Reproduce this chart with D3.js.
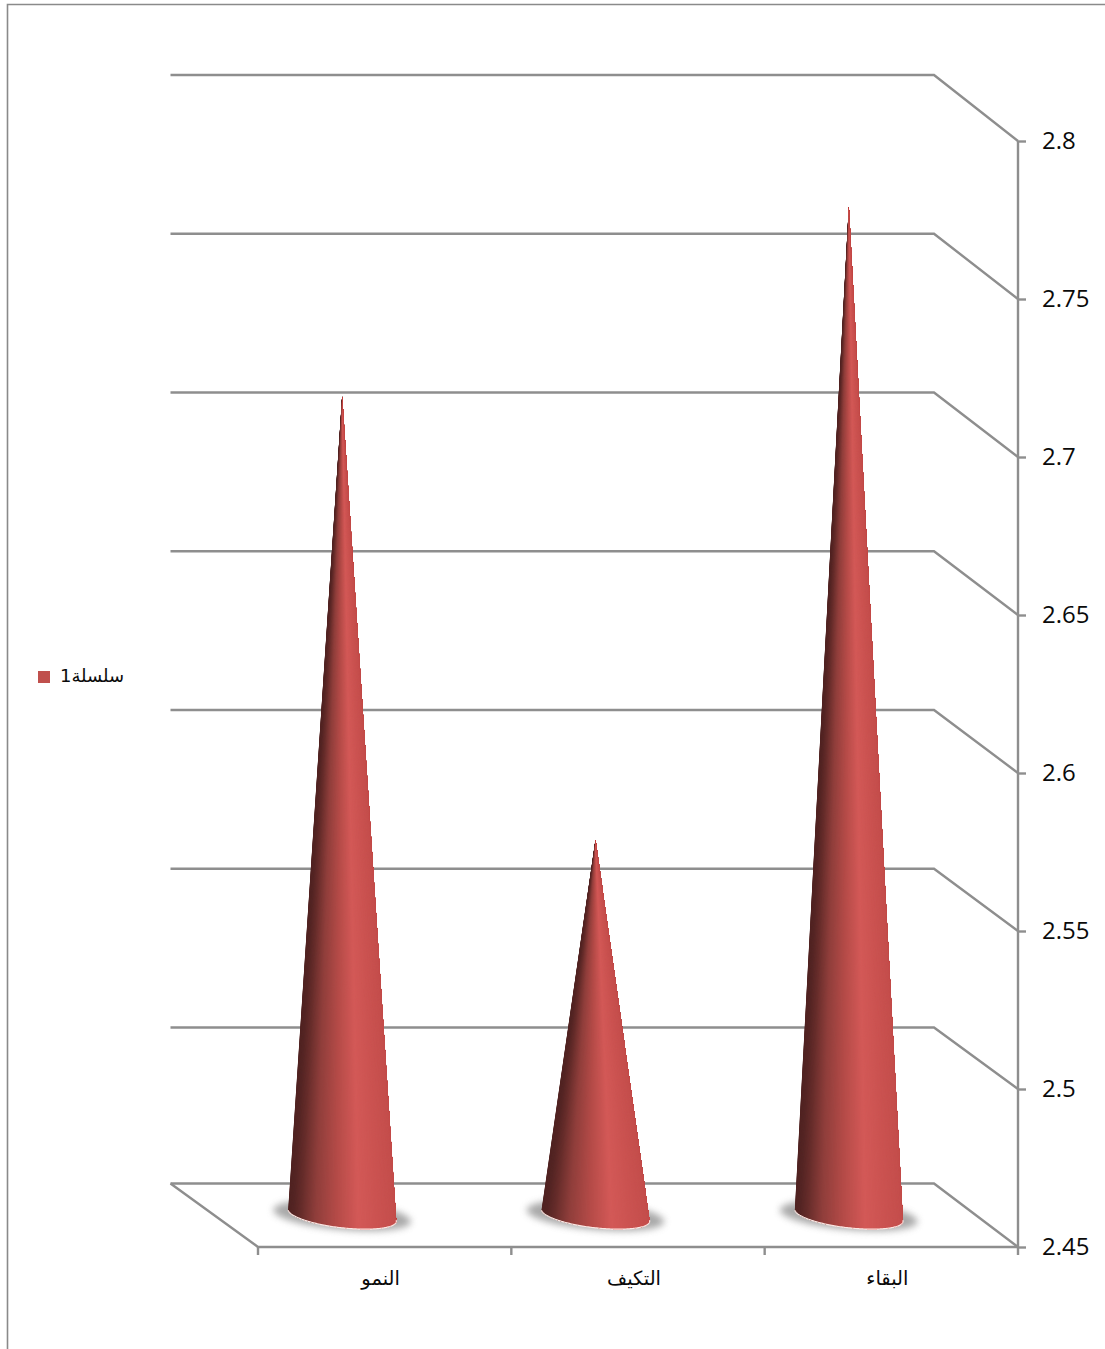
<!DOCTYPE html>
<html>
<head>
<meta charset="utf-8">
<script src="https://cdn.jsdelivr.net/npm/d3@7/dist/d3.min.js"></script>
<style>
html,body{margin:0;padding:0;background:#fff;overflow:hidden}
svg{display:block}
.y text{font-family:"Open Sans",sans-serif;font-size:24px;fill:#0a0a0a}
.x text{font-family:"DejaVu Sans",sans-serif;font-size:19.5px;fill:#0a0a0a}
</style>
</head>
<body>
<div id="chart"></div>
<script>
// Chart data
const categories = ["النمو", "التكيف", "البقاء"];
const seriesValues = [2.709, 2.569, 2.769];
const seriesName = "سلسلة1";
const yTicks = [2.45, 2.5, 2.55, 2.6, 2.65, 2.7, 2.75, 2.8];

const W = 1105, H = 1349;
const grey = "#8e8e8e";
const depthX = 84;

const svg = d3.select("#chart").append("svg").attr("width", W).attr("height", H);
const defs = svg.append("defs");
defs.append("filter").attr("id", "soft").attr("x", "-30%").attr("y", "-60%").attr("width", "160%").attr("height", "220%")
  .append("feGaussianBlur").attr("stdDeviation", 3.5);

const x = d3.scaleBand().domain(categories).range([258, 1018]);
// Front plane and back wall of the oblique box; the floor edge stops the back wall
const y = d3.scaleLinear().domain([2.45, 2.8]).range([1247, 141]);
const floorBack = 1183.5;
const backScale = d3.scaleLinear().domain([2.45, 2.8]).range([1186.25, 75]);
const yBack = v => Math.min(backScale(v), floorBack);
// Cones stand half way between the two planes
const yMid = v => (y(v) + yBack(v)) / 2;

// Outer frame: only the top and left edges fall inside the page
svg.append("path").attr("d", `M7.5,${H}V4.5H${W}`).attr("fill", "none").attr("stroke", "#8a8a8a").attr("stroke-width", 1.6);

const grid = svg.append("g").attr("fill", "none").attr("stroke", grey).attr("stroke-width", 2.4);
// Back wall rules and their return along the side wall
grid.selectAll("path.wall").data(yTicks).join("path").attr("class", "wall")
  .attr("d", v => `M170.5,${yBack(v)}H${1018 - depthX}L1018,${y(v)}`);
// Floor edges
grid.append("path").attr("d", `M170.5,${yBack(2.45)}L258,${y(2.45)}H1018`);

// Category tick marks at the band boundaries
grid.selectAll("line.cat").data(d3.range(categories.length + 1)).join("line").attr("class", "cat")
  .attr("x1", i => 258 + i * x.bandwidth()).attr("x2", i => 258 + i * x.bandwidth())
  .attr("y1", y(2.45)).attr("y2", y(2.45) + 8);

// Value axis on the right
const yAxis = svg.append("g").attr("class", "y").attr("transform", "translate(1018,0)")
  .call(d3.axisRight(y).tickValues(yTicks).tickSize(8).tickPadding(16).tickFormat(d3.format("~g")));
yAxis.selectAll(".domain,line").attr("stroke", grey).attr("stroke-width", 2.4);
yAxis.select(".domain").attr("d", `M0,${y(2.8)}V${y(2.45)}`);

// Category labels
const xAxis = svg.append("g").attr("class", "x").attr("transform", `translate(-4,${y(2.45)})`)
  .call(d3.axisBottom(x).tickSize(0).tickPadding(24));
xAxis.select(".domain").remove();

// Cone shading: colour runs across the visible width of the surface
const shade = d3.scaleLinear()
  .domain([0, 0.05, 0.12, 0.25, 0.45, 0.65, 0.85, 1])
  .range(["#502322", "#552524", "#672d2b", "#8f3e3b", "#b54b48", "#d35957", "#ca5250", "#c44e4c"]);

const halfBase = 54, baseDepth = 13, tilt = 5, skew = 4, sliceCount = 120;
const cones = svg.append("g").selectAll("g").data(categories).join("g");

cones.each(function (cat, i) {
  const g = d3.select(this);
  const cx = x(cat) + x.bandwidth() / 2 - depthX / 2 - 0.5;
  const cy = yMid(2.45);
  const tipY = yMid(seriesValues[i]);
  const rim = t => [cx - halfBase * Math.cos(t) + skew * Math.sin(t),
                    cy - tilt * Math.cos(t) + baseDepth * Math.sin(t)];

  // Contact shadow on the floor
  g.append("ellipse").attr("cx", cx).attr("cy", cy + 0.5).attr("rx", halfBase + 15).attr("ry", baseDepth + 1)
    .attr("transform", `rotate(5 ${cx} ${cy})`)
    .attr("fill", "#8c8c8c").attr("opacity", 0.75).attr("filter", "url(#soft)");

  // Surface painted left to right: each step covers the rest of the cone, so no seams appear
  const stops = d3.range(sliceCount + 1).map(k => (k / sliceCount) * Math.PI);
  g.selectAll("path.slice").data(stops.slice(0, -1)).join("path").attr("class", "slice")
    .attr("d", a => `M${cx},${tipY}L` + stops.filter(t => t >= a).map(rim).join("L") + "Z")
    .attr("fill", a => shade((rim(a + Math.PI / sliceCount / 2)[0] - (cx - halfBase)) / (2 * halfBase)));

  // Pale highlight along the base edge
  g.append("path").attr("d", d3.line()(stops.map(rim)))
    .attr("fill", "none").attr("stroke", "#fbe6e2").attr("stroke-width", 1.2);
});

// Legend
svg.append("rect").attr("x", 38).attr("y", 671).attr("width", 12).attr("height", 12).attr("fill", "#c0504d");
svg.append("text").attr("x", 60).attr("y", 682).attr("font-family", '"DejaVu Sans",sans-serif')
  .attr("font-size", 18).attr("fill", "#0a0a0a").text(seriesName);
</script>
</body>
</html>
